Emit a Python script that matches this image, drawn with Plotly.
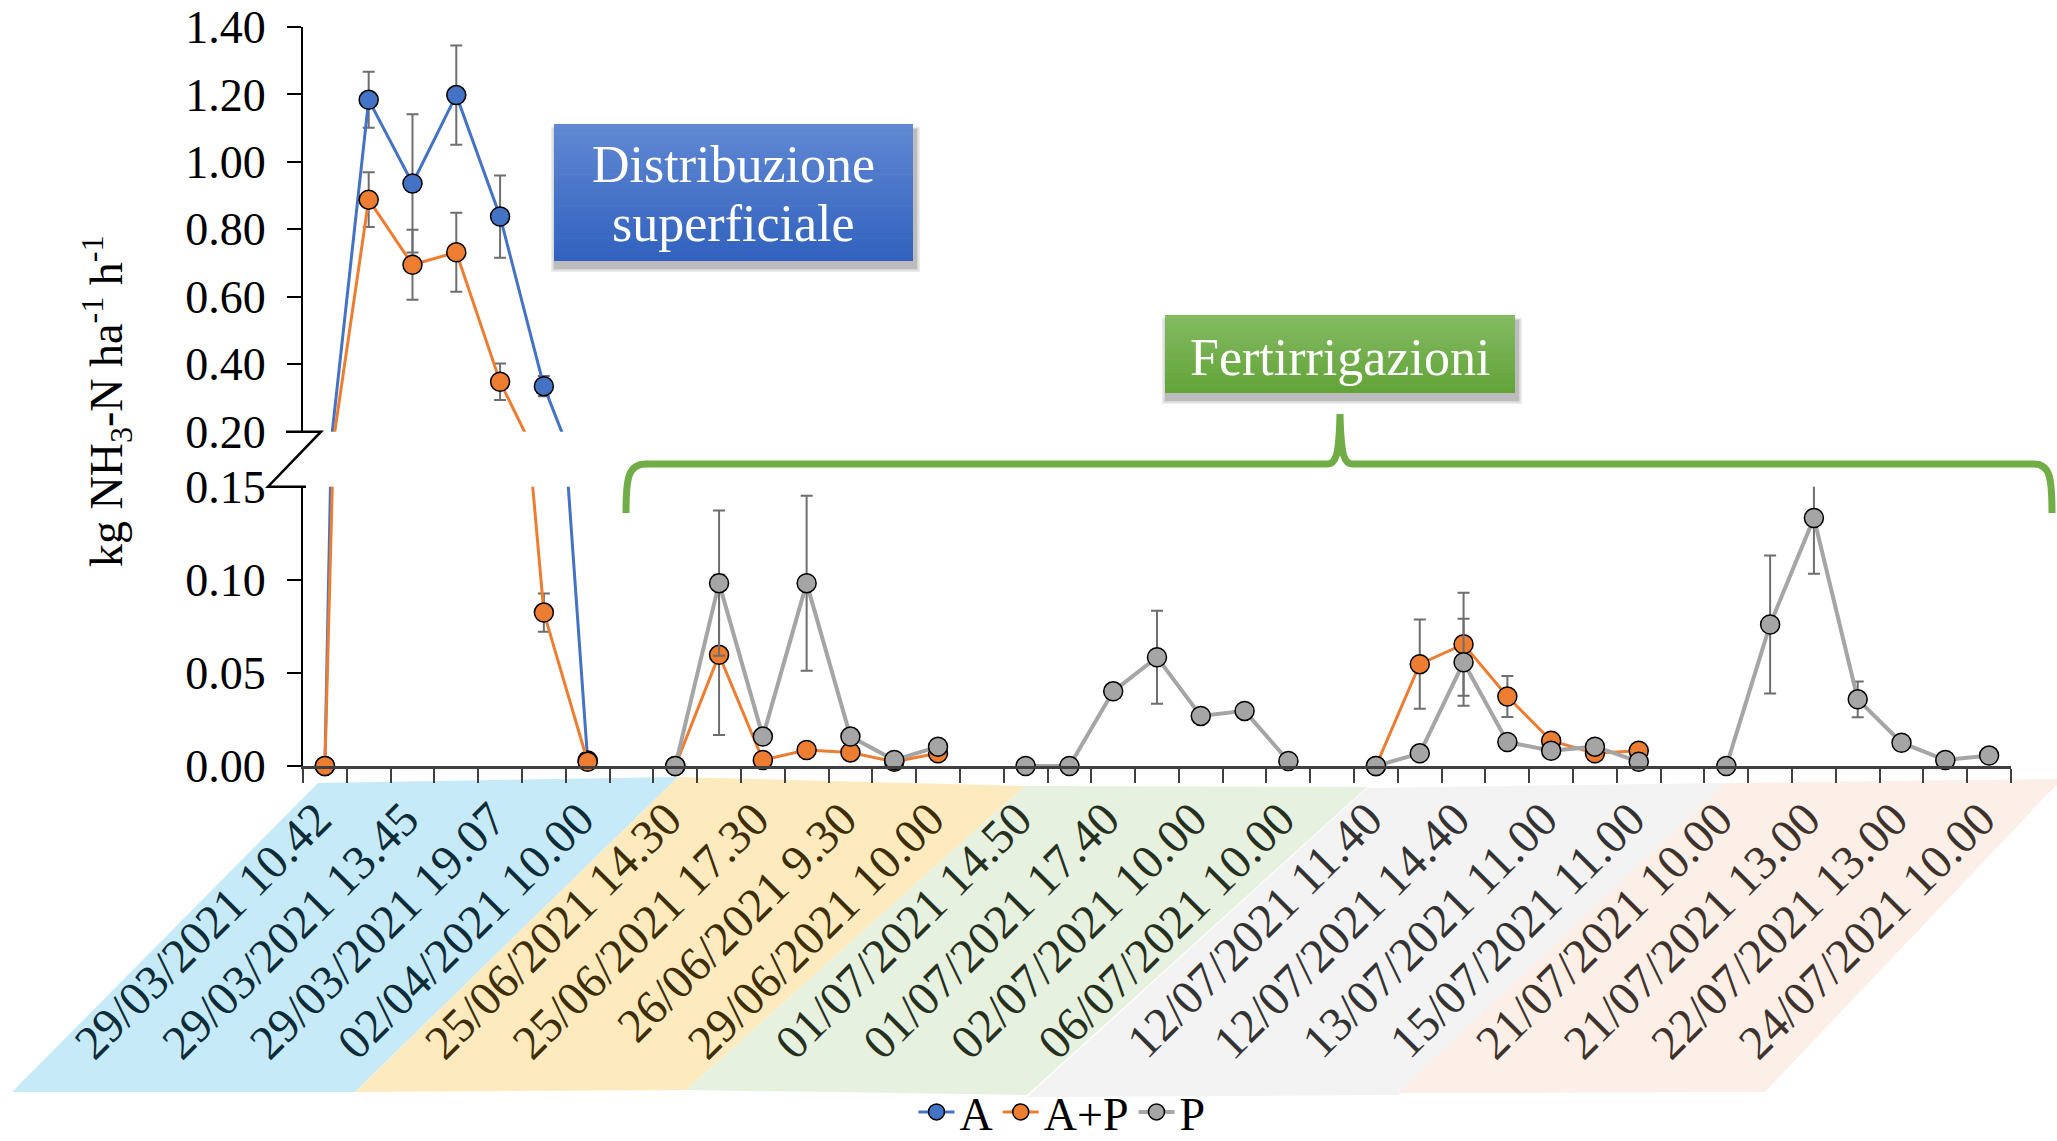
import plotly.graph_objects as go

# --- data -------------------------------------------------------------
# 39 sampling times; every other one carries a visible label
tick_labels = [
    "29/03/2021 10.42", "29/03/2021 13.45", "29/03/2021 19.07", "02/04/2021 10.00",
    "25/06/2021 14.30", "25/06/2021 17.30", "26/06/2021 9.30", "29/06/2021 10.00",
    "01/07/2021 14.50", "01/07/2021 17.40", "02/07/2021 10.00", "06/07/2021 10.00",
    "12/07/2021 11.40", "12/07/2021 14.40", "13/07/2021 11.00", "15/07/2021 11.00",
    "21/07/2021 10.00", "21/07/2021 13.00", "22/07/2021 13.00", "24/07/2021 10.00",
]
n_times = 39
x_idx = list(range(n_times))
tick_pos = list(range(0, n_times, 2))

N = None
val_A = [0, 1.184, 0.936, 1.198, 0.838, 0.335, 0.003] + [N] * 32
err_A = [0, 0.083, 0.205, 0.147, 0.122, 0.030, 0] + [0] * 32

val_AP = ([0, 0.888, 0.695, 0.732, 0.348, 0.0824, 0.0023, N,
           0, 0.0597, 0.0032, 0.0086, 0.0073, 0.0023, 0.0068]
          + [N] * 9
          + [0, 0.0547, 0.0654, 0.0373, 0.0136, 0.0068, 0.0082]
          + [N] * 8)
err_AP = ([0, 0.081, 0.104, 0.117, 0.054, 0.0103, 0, 0,
           0, 0.043, 0, 0, 0, 0, 0]
          + [0] * 9
          + [0, 0.024, 0.0277, 0.011, 0, 0, 0]
          + [0] * 8)

val_P = ([N] * 8
         + [0, 0.0982, 0.0158, 0.0982, 0.0158, 0.0032, 0.0104, N,
            0, 0, 0.0401, 0.0584, 0.0269, 0.0296, 0.0027, N,
            0, 0.0068, 0.0557, 0.0129, 0.0082, 0.0104, 0.0023, N,
            0, 0.0760, 0.1332, 0.0358, 0.0125, 0.0032, 0.0056])
err_P = ([0] * 8
         + [0, 0.039, 0, 0.047, 0, 0, 0, 0,
            0, 0, 0, 0.025, 0, 0, 0, 0,
            0, 0, 0.0234, 0, 0, 0, 0, 0,
            0, 0.037, 0.030, 0.0096, 0, 0, 0])

series = [
    ("A", val_A, err_A, "#4472C4", 3),
    ("A+P", val_AP, err_AP, "#ED7D31", 3),
    ("P", val_P, err_P, "#A5A5A5", 4),
]

LOW_MAX = 0.15

# --- pixel helpers for paper-space decorations ---------------------------
W, H = 2057, 1141
L, R, T, B = 303, 2011, 27, 766


def px(x):
    return (x - L) / (R - L)


def py(y):
    return (B - y) / (B - T)


fig = go.Figure()

err_style = dict(type="data", visible=True, color="#6E6E6E", thickness=2, width=6)

for name, vals, errs, col, lw in series:
    # upper panel (0.20 - 1.40)
    fig.add_trace(go.Scatter(
        x=x_idx, y=vals, name=name, legendgroup=name, mode="lines+markers",
        line=dict(color=col, width=lw),
        marker=dict(size=19, color=col, line=dict(color="black", width=1.5)),
        error_y=dict(array=errs, **err_style),
        xaxis="x2", yaxis="y2", showlegend=True,
    ))
    # lower panel line + error bars (clipped)
    fig.add_trace(go.Scatter(
        x=x_idx, y=vals, legendgroup=name, mode="lines",
        line=dict(color=col, width=lw),
        error_y=dict(array=errs, **err_style),
        xaxis="x", yaxis="y", showlegend=False,
    ))
    # lower panel markers, not clipped so zero values stay round
    mx = [i for i, v in zip(x_idx, vals) if v is not None and v <= LOW_MAX]
    my = [v for v in vals if v is not None and v <= LOW_MAX]
    fig.add_trace(go.Scatter(
        x=mx, y=my, legendgroup=name, mode="markers", cliponaxis=False,
        marker=dict(size=19, color=col, line=dict(color="black", width=1.5)),
        xaxis="x", yaxis="y", showlegend=False,
    ))

# --- coloured label bands under the time axis -------------------------
bands = [
    # (top-left, top-right, bottom-right, bottom-left), fill, text colour
    (((318, 783), (678, 777), (355, 1092), (12, 1092)), "#C6EAF8", "#0D2B38"),
    (((678, 777), (1025, 786), (686, 1090), (355, 1092)), "#FDEBBF", "#3E2D05"),
    (((1025, 786), (1367, 787), (1027, 1095), (686, 1090)), "#E6F1DF", "#26301E"),
    (((1367, 788), (1725, 783), (1398, 1095), (1027, 1097)), "#F3F3F3", "#333333"),
    (((1725, 783), (2062, 779), (1765, 1092), (1398, 1093)), "#FCEFE7", "#3E332C"),
]
shapes = []
for pts, fill, _ in bands:
    path = "M " + " L ".join(f"{px(a):.5f},{py(b):.5f}" for a, b in pts) + " Z"
    shapes.append(dict(type="path", xref="paper", yref="paper", path=path,
                       fillcolor=fill, line=dict(width=0), layer="below"))

band_text = []
for k in range(len(tick_labels)):
    band_text.append(bands[k // 4][2])
ticktext = [f'<span style="color:{c}">{t}</span>' for t, c in zip(tick_labels, band_text)]


# --- text boxes with vertical gradient and soft shadow -------------------
def gradient_box(x0, y0, x1, y1, top, bottom, steps=30):
    out = []
    for s, a in zip((10, 7, 4), (0.07, 0.09, 0.12)):
        out.append(dict(type="rect", xref="paper", yref="paper",
                        x0=px(x0 + 2 - s / 2), x1=px(x1 + 2 + s / 2),
                        y0=py(y0 + 6 - s / 3), y1=py(y1 + 6 + s / 2),
                        fillcolor=f"rgba(0,0,0,{a})", line=dict(width=0)))
    for i in range(steps):
        f = i / (steps - 1)
        c = tuple(round(top[j] + (bottom[j] - top[j]) * f) for j in range(3))
        ya = y0 + (y1 - y0) * i / steps
        yb = y0 + (y1 - y0) * (i + 1) / steps + 0.6
        out.append(dict(type="rect", xref="paper", yref="paper",
                        x0=px(x0), x1=px(x1), y0=py(ya), y1=py(min(yb, y1)),
                        fillcolor=f"rgb{c}", line=dict(width=0)))
    return out


shapes += gradient_box(554, 124, 913, 261, (96, 136, 211), (50, 98, 190))
shapes += gradient_box(1165, 315, 1515, 393, (132, 186, 98), (98, 164, 56))

# --- curly brace over the fertigation period -----------------------------
brace_pts = [
    ("M", [(626, 513)]),
    ("C", [(626, 478), (628, 464), (646, 464)]),
    ("L", [(1327, 464)]),
    ("C", [(1336, 464), (1339, 456), (1340, 414)]),
    ("C", [(1341, 456), (1344, 464), (1353, 464)]),
    ("L", [(2034, 464)]),
    ("C", [(2050, 464), (2052, 478), (2052, 513)]),
]
brace_path = " ".join(
    cmd + " " + " ".join(f"{px(a):.5f},{py(b):.5f}" for a, b in pts)
    for cmd, pts in brace_pts)
shapes.append(dict(type="path", xref="paper", yref="paper", path=brace_path,
                   line=dict(color="#70AD47", width=7)))

# --- axis break mark --------------------------------------------------
z_pts = [(286, 431.7), (321, 431.7), (268, 486.7), (306, 486.7)]
shapes.append(dict(type="path", xref="paper", yref="paper",
                   path="M " + " L ".join(f"{px(a):.5f},{py(b):.5f}" for a, b in z_pts),
                   line=dict(color="black", width=2.5)))

FONT = "Liberation Serif, Times New Roman, serif"

annotations = [
    dict(text="Distribuzione", x=px(733), y=py(165), xref="paper", yref="paper",
         showarrow=False, font=dict(family=FONT, size=52, color="white"),
         xanchor="center", yanchor="middle"),
    dict(text="superficiale", x=px(733), y=py(223), xref="paper", yref="paper",
         showarrow=False, font=dict(family=FONT, size=52, color="white"),
         xanchor="center", yanchor="middle"),
    dict(text="Fertirrigazioni", x=px(1340), y=py(357), xref="paper", yref="paper",
         showarrow=False, font=dict(family=FONT, size=52, color="white"),
         xanchor="center", yanchor="middle"),
    dict(text="kg NH<sub>3</sub>-N ha<sup>-1</sup> h<sup>-1</sup>",
         x=px(106), y=py(401), xref="paper", yref="paper", textangle=-90,
         showarrow=False, font=dict(family=FONT, size=46, color="black"),
         xanchor="center", yanchor="middle"),
]

y_low_top = py(486.7)
y_high_bot = py(431.7)

fig.update_layout(
    template="none",
    width=W, height=H, autosize=False,
    margin=dict(l=L, r=W - R, t=T, b=H - B, pad=0, autoexpand=False),
    paper_bgcolor="white", plot_bgcolor="white",
    font=dict(family=FONT, size=46, color="black"),
    shapes=shapes, annotations=annotations,
    legend=dict(orientation="h", xref="paper", x=px(1062), xanchor="center",
                yref="container", y=(H - 1112) / H, yanchor="middle",
                font=dict(family=FONT, size=46),
                bgcolor="rgba(0,0,0,0)", itemwidth=36, tracegroupgap=0),
    xaxis=dict(
        domain=[0, 1], range=[-0.5, n_times - 0.5], anchor="y", automargin=False,
        tickmode="array", tickvals=tick_pos, ticktext=ticktext,
        tickangle=-45, ticks="", tickfont=dict(family=FONT, size=48),
        ticklabelstandoff=3, ticklabelshift=-8,
        minor=dict(tickmode="linear", tick0=-0.5, dtick=1, ticks="outside",
                   ticklen=14, tickwidth=2, tickcolor="#404040"),
        showline=True, linecolor="#404040", linewidth=2.5,
        showgrid=False, zeroline=False,
    ),
    xaxis2=dict(
        domain=[0, 1], range=[-0.5, n_times - 0.5], anchor="y2", matches="x",
        automargin=False,
        showticklabels=False, ticks="", showline=False, showgrid=False, zeroline=False,
    ),
    yaxis=dict(
        domain=[0, y_low_top], range=[0, LOW_MAX], anchor="x", automargin=False,
        tickmode="array", tickvals=[0, 0.05, 0.10, 0.15], tickformat=".2f",
        ticks="outside", ticklen=14, tickwidth=2, tickcolor="black",
        showline=True, linecolor="black", linewidth=2,
        showgrid=False, zeroline=False, tickfont=dict(family=FONT, size=46),
        ticklabelstandoff=12,
    ),
    yaxis2=dict(
        domain=[y_high_bot, 1], range=[0.2, 1.4], anchor="x2", automargin=False,
        tickmode="array", tickvals=[0.2, 0.4, 0.6, 0.8, 1.0, 1.2, 1.4], tickformat=".2f",
        ticks="outside", ticklen=14, tickwidth=2, tickcolor="black",
        showline=True, linecolor="black", linewidth=2,
        showgrid=False, zeroline=False, tickfont=dict(family=FONT, size=46),
        ticklabelstandoff=12,
    ),
)

fig.write_html("out.html")
